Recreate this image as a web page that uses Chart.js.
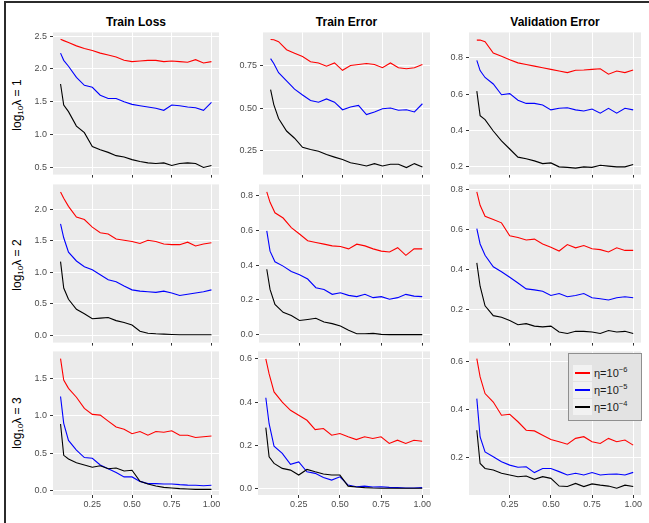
<!DOCTYPE html>
<html>
<head>
<meta charset="utf-8">
<script src="https://cdn.jsdelivr.net/npm/chart.js@4.4.0/dist/chart.umd.min.js"></script>
<style>
  body { margin:0; background:#fff; width:649px; height:523px; position:relative; overflow:hidden;
         font-family:"Liberation Sans", Arial, sans-serif; }
  .frame { position:absolute; left:4px; top:1px; width:660px; height:540px;
           border-top:2px solid #2b2b2b; border-left:2px solid #2b2b2b; }
  .title { position:absolute; top:14px; height:16px; line-height:16px; font-weight:bold;
           font-size:12px; text-align:center; color:#000; white-space:nowrap; }
  .rowlab { position:absolute; width:120px; height:16px; line-height:16px; font-size:12px;
            text-align:center; white-space:nowrap; transform:rotate(-90deg); color:#000; }
  .rowlab sub { font-size:8px; vertical-align:-2px; }
  canvas { position:absolute; }
  .legend { position:absolute; left:568px; top:353px; width:72px; height:66px; background:#e3e3e3;
            border:1px solid #8f8f8f; z-index:5; }
  .legend .row { position:absolute; left:4px; height:16px; }
  .legend .key { position:absolute; left:0; top:0; width:19px; height:16px; background:#f2f2f2; }
  .legend .key i { position:absolute; left:2px; top:7px; width:15px; height:2px; }
  .legend .txt { position:absolute; left:21px; top:0; line-height:16px; font-size:11px; color:#1a1a1a; white-space:nowrap; }
  .legend sup { font-size:7.5px; vertical-align:5px; line-height:0; }
</style>
</head>
<body>
<div class="frame"></div>

<div class="title" style="left:53px;width:166px">Train Loss</div>
<div class="title" style="left:263px;width:167px">Train Error</div>
<div class="title" style="left:469px;width:172px">Validation Error</div>

<div class="rowlab" style="left:-43px;top:97px">log<sub>10</sub>λ = 1</div>
<div class="rowlab" style="left:-43px;top:257px">log<sub>10</sub>λ = 2</div>
<div class="rowlab" style="left:-43px;top:415px">log<sub>10</sub>λ = 3</div>

<div class="legend">
  <div class="row" style="top:11px"><div class="key"><i style="background:#ff0000"></i></div><div class="txt">η=10<sup>−6</sup></div></div>
  <div class="row" style="top:28px"><div class="key"><i style="background:#0000ff"></i></div><div class="txt">η=10<sup>−5</sup></div></div>
  <div class="row" style="top:45px"><div class="key"><i style="background:#000000"></i></div><div class="txt">η=10<sup>−4</sup></div></div>
</div>

<script>
// x positions (fraction of training) shared by every curve
const xs = [0.05,0.07,0.10,0.15,0.20,0.25,0.30,0.35,0.40,0.45,0.50,0.55,0.60,0.65,0.70,0.75,0.80,0.85,0.90,0.95,1.00];
const xTickLabels = ['0.25','0.50','0.75','1.00'];
const seriesNames = ['η=10^-6','η=10^-5','η=10^-4'];
const seriesColors = ['#ff0000','#0000ff','#000000'];

// log10 lambda = 1
const lossL1Red   = [2.45,2.43,2.40,2.35,2.31,2.28,2.24,2.21,2.18,2.13,2.11,2.12,2.13,2.13,2.11,2.12,2.11,2.10,2.14,2.09,2.11];
const lossL1Blue  = [2.24,2.13,2.04,1.87,1.75,1.72,1.60,1.55,1.55,1.50,1.46,1.44,1.42,1.40,1.37,1.45,1.44,1.42,1.41,1.37,1.49];
const lossL1Black = [1.77,1.45,1.35,1.13,1.03,0.82,0.77,0.73,0.68,0.66,0.62,0.59,0.57,0.56,0.57,0.53,0.56,0.57,0.56,0.50,0.53];
const errL1Red    = [0.900,0.898,0.887,0.840,0.820,0.800,0.770,0.763,0.744,0.763,0.720,0.748,0.754,0.760,0.754,0.735,0.763,0.735,0.729,0.735,0.754];
const errL1Blue   = [0.788,0.760,0.706,0.658,0.610,0.576,0.544,0.534,0.553,0.534,0.490,0.506,0.515,0.462,0.477,0.496,0.500,0.487,0.490,0.477,0.525];
const errL1Black  = [0.607,0.520,0.439,0.366,0.324,0.271,0.258,0.248,0.229,0.214,0.200,0.181,0.172,0.162,0.176,0.162,0.172,0.172,0.153,0.176,0.156];
const valL1Red    = [0.899,0.900,0.890,0.827,0.810,0.790,0.773,0.764,0.755,0.746,0.737,0.728,0.719,0.732,0.733,0.737,0.740,0.710,0.728,0.719,0.733];
const valL1Blue   = [0.787,0.730,0.692,0.656,0.596,0.602,0.566,0.548,0.548,0.539,0.512,0.521,0.524,0.512,0.506,0.517,0.494,0.521,0.494,0.521,0.512];
const valL1Black  = [0.616,0.480,0.458,0.395,0.340,0.295,0.250,0.241,0.229,0.214,0.218,0.196,0.193,0.189,0.196,0.193,0.205,0.200,0.196,0.196,0.209];

// log10 lambda = 2
const lossL2Red   = [2.28,2.18,2.05,1.88,1.84,1.72,1.63,1.61,1.53,1.51,1.49,1.46,1.51,1.49,1.45,1.44,1.44,1.48,1.42,1.45,1.47];
const lossL2Blue  = [1.77,1.55,1.32,1.18,1.09,1.04,0.96,0.88,0.85,0.78,0.72,0.70,0.69,0.68,0.70,0.67,0.63,0.65,0.67,0.69,0.72];
const lossL2Black = [1.17,0.75,0.57,0.41,0.34,0.26,0.27,0.28,0.23,0.20,0.16,0.06,0.03,0.02,0.015,0.01,0.006,0.005,0.004,0.004,0.004];
const errL2Red    = [0.820,0.760,0.700,0.670,0.615,0.578,0.540,0.530,0.520,0.510,0.507,0.493,0.520,0.510,0.493,0.480,0.475,0.500,0.456,0.493,0.493];
const errL2Blue   = [0.596,0.480,0.419,0.394,0.363,0.344,0.320,0.270,0.260,0.232,0.241,0.226,0.219,0.232,0.213,0.219,0.204,0.213,0.232,0.222,0.219];
const errL2Black  = [0.376,0.260,0.174,0.129,0.110,0.082,0.088,0.095,0.073,0.064,0.050,0.026,0.006,0.006,0.008,0.002,0.001,0.001,0.001,0.001,0.001];
const valL2Red    = [0.787,0.720,0.666,0.650,0.633,0.569,0.560,0.548,0.552,0.528,0.512,0.493,0.525,0.509,0.520,0.504,0.500,0.488,0.509,0.496,0.496];
const valL2Blue   = [0.604,0.528,0.472,0.415,0.390,0.363,0.334,0.305,0.300,0.293,0.272,0.282,0.266,0.272,0.282,0.261,0.256,0.250,0.261,0.266,0.261];
const valL2Black  = [0.434,0.318,0.221,0.172,0.164,0.148,0.127,0.132,0.120,0.116,0.120,0.091,0.083,0.094,0.094,0.091,0.083,0.098,0.091,0.094,0.083];

// log10 lambda = 3
const lossL3Red   = [1.77,1.48,1.37,1.25,1.10,1.02,1.01,0.93,0.85,0.82,0.76,0.79,0.74,0.79,0.78,0.80,0.74,0.74,0.71,0.72,0.73];
const lossL3Blue  = [1.26,0.90,0.67,0.54,0.44,0.43,0.34,0.29,0.24,0.18,0.18,0.12,0.09,0.09,0.085,0.085,0.076,0.07,0.067,0.062,0.067];
const lossL3Black = [0.89,0.47,0.42,0.37,0.34,0.31,0.33,0.29,0.30,0.26,0.27,0.12,0.085,0.058,0.04,0.03,0.022,0.018,0.013,0.013,0.013];
const errL3Red    = [0.600,0.530,0.447,0.400,0.362,0.339,0.316,0.273,0.278,0.247,0.255,0.240,0.227,0.240,0.232,0.240,0.209,0.224,0.209,0.224,0.219];
const errL3Blue   = [0.420,0.300,0.196,0.163,0.113,0.124,0.078,0.071,0.052,0.040,0.055,0.017,0.009,0.012,0.008,0.009,0.006,0.005,0.003,0.003,0.005];
const errL3Black  = [0.282,0.147,0.117,0.094,0.086,0.063,0.089,0.078,0.068,0.063,0.063,0.012,0.008,0.005,0.003,0.002,0.002,0.002,0.002,0.002,0.002];
const valL3Red    = [0.610,0.534,0.465,0.430,0.375,0.379,0.348,0.313,0.310,0.292,0.274,0.265,0.255,0.279,0.286,0.265,0.258,0.279,0.265,0.272,0.251];
const valL3Blue   = [0.444,0.285,0.223,0.203,0.182,0.168,0.159,0.161,0.137,0.154,0.154,0.141,0.127,0.134,0.127,0.137,0.127,0.130,0.131,0.127,0.138];
const valL3Black  = [0.313,0.175,0.154,0.148,0.134,0.127,0.120,0.123,0.109,0.120,0.113,0.081,0.079,0.092,0.079,0.090,0.085,0.081,0.072,0.085,0.079];

// y tick labels per panel
const yTicksLossL1 = ['0.5','1.0','1.5','2.0','2.5'];
const yTicksErrL1  = ['0.25','0.50','0.75'];
const yTicksValL1  = ['0.2','0.4','0.6','0.8'];
const yTicksLossL2 = ['0.0','0.5','1.0','1.5','2.0'];
const yTicksErrL2  = ['0.0','0.2','0.4','0.6','0.8'];
const yTicksValL2  = ['0.2','0.4','0.6','0.8'];
const yTicksLossL3 = ['0.0','0.5','1.0','1.5'];
const yTicksErrL3  = ['0.0','0.2','0.4','0.6'];
const yTicksValL3  = ['0.2','0.4','0.6'];

// panel boxes (pixels) and y ranges
const panels = [
  {left:53,  top:32,  right:219, bottom:178, yMin:0.392,  yMax:2.555, ticks:yTicksLossL1, data:[lossL1Red,lossL1Blue,lossL1Black], xLabels:false},
  {left:263, top:32,  right:430, bottom:178, yMin:0.112,  yMax:0.941, ticks:yTicksErrL1,  data:[errL1Red,errL1Blue,errL1Black],    xLabels:false},
  {left:469, top:32,  right:641, bottom:178, yMin:0.153,  yMax:0.942, ticks:yTicksValL1,  data:[valL1Red,valL1Blue,valL1Black],    xLabels:false},
  {left:53,  top:184, right:219, bottom:346, yMin:-0.12,  yMax:2.40,  ticks:yTicksLossL2, data:[lossL2Red,lossL2Blue,lossL2Black], xLabels:false},
  {left:259, top:184, right:430, bottom:346, yMin:-0.045, yMax:0.863, ticks:yTicksErrL2,  data:[errL2Red,errL2Blue,errL2Black],    xLabels:false},
  {left:469, top:184, right:641, bottom:346, yMin:0.038,  yMax:0.824, ticks:yTicksValL2,  data:[valL2Red,valL2Blue,valL2Black],    xLabels:false},
  {left:53,  top:351, right:219, bottom:495, yMin:-0.063, yMax:1.866, ticks:yTicksLossL3, data:[lossL3Red,lossL3Blue,lossL3Black], xLabels:true},
  {left:258, top:351, right:430, bottom:495, yMin:-0.029, yMax:0.634, ticks:yTicksErrL3,  data:[errL3Red,errL3Blue,errL3Black],    xLabels:true},
  {left:469, top:351, right:641, bottom:495, yMin:0.044,  yMax:0.640, ticks:yTicksValL3,  data:[valL3Red,valL3Blue,valL3Black],    xLabels:true}
];

const Y_W = 40, PAD_T = 8, PAD_R = 14;

const panelBg = {
  id: 'panelBg',
  beforeDraw(chart) {
    const a = chart.chartArea, ctx = chart.ctx;
    ctx.save();
    ctx.fillStyle = '#ebebeb';
    ctx.fillRect(a.left, a.top, a.right - a.left, a.bottom - a.top);
    ctx.restore();
  }
};

const tickFont = { family: '"Liberation Sans", Arial, sans-serif', size: 9 };

panels.forEach(p => {
  const xH = p.xLabels ? 16 : 5;
  const canvas = document.createElement('canvas');
  const w = (p.right - p.left) + Y_W + PAD_R;
  const h = (p.bottom - p.top) + PAD_T + xH;
  canvas.width = w; canvas.height = h;
  canvas.style.left = (p.left - Y_W) + 'px';
  canvas.style.top = (p.top - PAD_T) + 'px';
  canvas.style.width = w + 'px'; canvas.style.height = h + 'px';
  document.body.appendChild(canvas);

  const yTickVals = p.ticks.map(Number);

  new Chart(canvas, {
    type: 'line',
    data: {
      datasets: p.data.map((vals, i) => ({
        label: seriesNames[i],
        data: xs.map((x, k) => ({ x: x, y: vals[k] })),
        borderColor: seriesColors[i],
        borderWidth: 1.1,
        pointRadius: 0,
        tension: 0,
        fill: false
      })).reverse()
    },
    options: {
      responsive: false,
      animation: false,
      devicePixelRatio: 1,
      layout: { padding: { top: PAD_T, right: PAD_R, left: 0, bottom: 0 } },
      plugins: { legend: { display: false }, tooltip: { enabled: false } },
      scales: {
        x: {
          type: 'linear', min: 0.0025, max: 1.0475,
          afterBuildTicks: s => { s.ticks = xTickLabels.map(t => ({ value: Number(t) })); },
          afterFit: s => { s.height = xH; },
          grid: { color: '#ffffff', lineWidth: 1, tickColor: '#333333', tickLength: 3 },
          border: { display: false },
          ticks: {
            display: p.xLabels, padding: 1, color: '#4d4d4d', font: tickFont, maxRotation: 0,
            autoSkip: false,
            callback: v => xTickLabels.find(t => Number(t) === v) || ''
          }
        },
        y: {
          type: 'linear', min: p.yMin, max: p.yMax,
          afterBuildTicks: s => { s.ticks = yTickVals.map(v => ({ value: v })); },
          afterFit: s => { s.width = Y_W; },
          grid: { color: '#ffffff', lineWidth: 1, tickColor: '#333333', tickLength: 3 },
          border: { display: false },
          ticks: {
            padding: 3, color: '#4d4d4d', font: tickFont, autoSkip: false,
            callback: v => p.ticks[yTickVals.indexOf(v)] || ''
          }
        }
      }
    },
    plugins: [panelBg]
  });
});
</script>
</body>
</html>
